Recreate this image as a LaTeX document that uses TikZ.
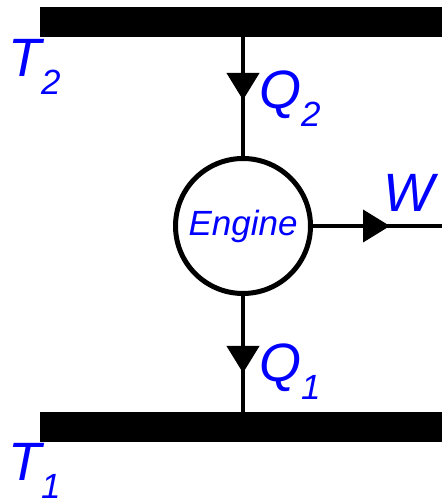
\documentclass[tikz,border=0pt]{standalone}
\usepackage{fontspec}
\setmainfont{Liberation Sans}
\usetikzlibrary{arrows.meta,positioning}
\definecolor{labelblue}{RGB}{0,0,255}
\newcommand{\sublbl}[1]{\raisebox{-18pt}{\fontsize{35}{40}\selectfont #1}}

\begin{document}
\begin{tikzpicture}[
  x=1pt, y=1pt,
  font=\fontsize{54}{60}\selectfont\itshape,
  reservoir/.style={fill=black, draw=none, minimum width=402pt,
                    minimum height=30pt, inner sep=0pt},
  engine/.style={circle, draw, line width=5pt, minimum size=135pt,
                 inner sep=0pt, text=labelblue,
                 font=\fontsize{35}{40}\selectfont\itshape},
  flow/.style={line width=4pt},
  arr/.style={line width=4pt, -{Triangle[length=27pt, width=32pt]}},
  lbl/.style={text=labelblue, anchor=base west, inner sep=0pt}
]
\useasboundingbox (0,0) rectangle (442,498);
\node[reservoir] (hot) at (241,476) {};
\node[reservoir] (cold) at (241,70.5) {};
\node[engine] (engine) at (243,272) {Engine};
\coordinate (q2tip) at (243,398);
\coordinate (q1tip) at (243,125);
\coordinate (wtip) at (390,272);
\coordinate (wend) at (442,272);
% heat flows and work
\draw[flow] (engine.north |- hot.south) -- (engine.north);
\draw[arr] (engine.north |- hot.south) -- (q2tip);
\draw[flow] (engine.south) -- (engine.south |- cold.north);
\draw[arr] (engine.south) -- (q1tip);
\draw[flow] (engine.east) -- (wend);
\draw[arr] (engine.east) -- (wtip);
% labels
\node[lbl] (t2) at (8,421) {T\sublbl{2}};
\node[lbl] (t1) at (8,17) {T\sublbl{1}};
\node[lbl] (q2) at (259,389) {Q\sublbl{2}};
\node[lbl] (q1) at (259,116) {Q\sublbl{1}};
\node[lbl] (w) at (383,286) {W};
\end{tikzpicture}
\end{document}
